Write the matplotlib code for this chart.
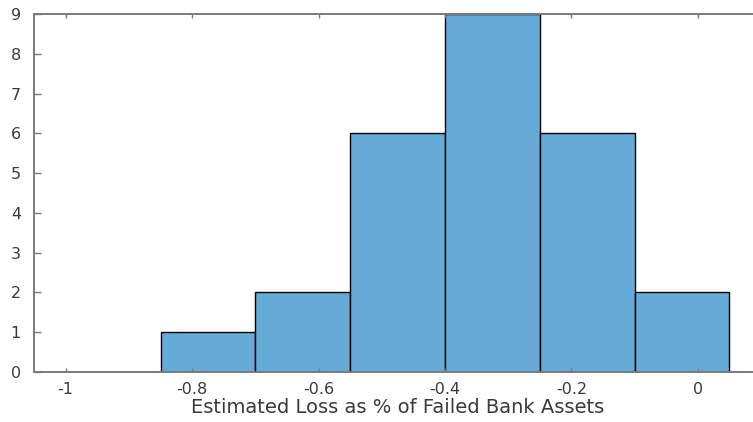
import numpy as np
import matplotlib.pyplot as plt

plt.rcParams["font.family"] = ["DejaVu Sans"]

# bin edges and counts of the loss histogram
bin_edges = [-0.85, -0.70, -0.55, -0.40, -0.25, -0.10, 0.05]
bin_counts = [1, 2, 6, 9, 6, 2]
x_ticks = [-1, -0.8, -0.6, -0.4, -0.2, 0]
x_tick_labels = ["-1", "-0.8", "-0.6", "-0.4", "-0.2", "0"]

fig = plt.figure(figsize=(7.53, 4.22), dpi=100)
ax = fig.add_axes([33.5 / 753, 1 - 372 / 422, (761 - 33.5) / 753, (372 - 14) / 422])

left = np.array(bin_edges[:-1])
widths = np.diff(bin_edges)
ax.bar(left, bin_counts, width=widths, align="edge",
       color="#66AAD7", edgecolor="black", linewidth=1.0)

ax.set_xlim(-1.051, 0.1)
ax.set_ylim(0, 9)
ax.set_xticks(x_ticks)
ax.set_xticklabels(x_tick_labels)
ax.set_yticks(range(0, 10))

text_color = "#3a3a3a"
for side in ["left", "bottom", "top", "right"]:
    ax.spines[side].set_color("#7a7a7a")
    ax.spines[side].set_linewidth(1.4)
ax.tick_params(direction="in", width=1, colors="#7a7a7a",
               labelcolor=text_color, labelsize=11.5, top=True, right=True)
ax.tick_params(axis="x", length=3, pad=7)
ax.tick_params(axis="y", length=5, pad=9)

ax.set_xlabel("Estimated Loss as % of Failed Bank Assets", fontsize=14,
              color=text_color, labelpad=1)

fig.savefig("out.png", dpi=100)
